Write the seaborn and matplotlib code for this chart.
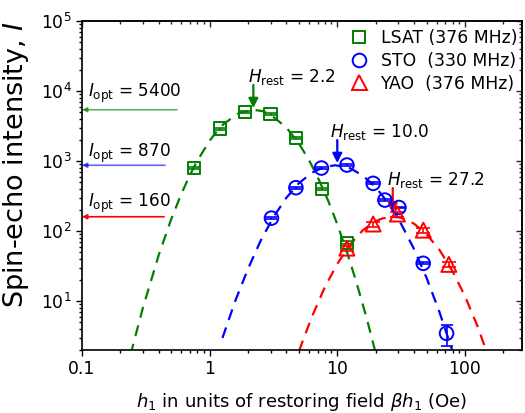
import numpy as np
import pandas as pd
import matplotlib
matplotlib.use("Agg")
import matplotlib.pyplot as plt
from matplotlib.lines import Line2D
import seaborn as sns

# ---------------- data ----------------
lsat_h = [0.757, 1.20, 1.89, 3.0, 4.74, 7.54, 11.9]
lsat_I = [790, 2910, 5060, 4690, 2110, 398, 68]
lsat_err = [25, 90, 160, 150, 70, 14, 3]

sto_h = [3.05, 4.74, 7.51, 11.9, 19.1, 23.6, 30.4, 47.1, 71.8]
sto_I = [153, 416, 794, 877, 480, 277, 217, 34.6, 3.46]
sto_err = [5, 12, 24, 27, 15, 9, 7, 1.2, 1.15]

yao_h = [11.9, 19.1, 29.6, 47.2, 74.8]
yao_I = [57, 126, 175, 103, 33.4]
yao_err = [4.5, 10, 14, 8, 2.7]

# fitted (dashed) curves
lsat_fit_h = [0.24, 0.3, 0.4, 0.5, 0.6, 0.7, 0.8, 1.0, 1.15, 1.3, 1.7, 2.2, 2.6,
              3.0, 4.0, 5.0, 6.0, 7.0, 8.5, 10, 12, 14, 17, 20]
lsat_fit_I = [1.72, 8.0, 46, 148, 339, 630, 1009, 1950, 2716, 3435, 4840, 5400, 5150,
              4605, 2999, 1782, 1033, 597, 269, 125, 47.9, 19.5, 5.66, 1.8]

sto_fit_h = [1.26, 1.585, 2.0, 2.51, 3.16, 3.98, 5.01, 6.31, 7.94, 9.66, 12.6, 15.8,
             20, 25.1, 31.6, 39.8, 50.1, 63.1, 79.4]
sto_fit_I = [2.97, 9.98, 29, 72.8, 158, 297, 483, 679, 826, 870, 791, 622,
             424, 250, 127, 56, 21.4, 7.0, 2.0]

yao_fit_h = [5.01, 6.31, 7.94, 10, 12.6, 15.8, 20, 22.4, 27.2, 31.6, 39.8, 50.1,
             63.1, 79.4, 100, 126, 158]
yao_fit_I = [1.93, 5.9, 15.4, 34, 64, 102, 138, 151, 160, 155, 128, 90,
             54, 27.3, 11.8, 4.3, 1.34]

legend_labels = ["LSAT (376 MHz)", "STO  (330 MHz)", "YAO  (376 MHz)"]
I_opt = [5400, 870, 160]
H_rest = [2.2, 10.0, 27.2]

# ---------------- styling ----------------
sns.set_theme(style="ticks")
plt.rcParams["font.family"] = ["DejaVu Sans"]
plt.rcParams["mathtext.fontset"] = "dejavusans"
plt.rcParams["text.color"] = "black"
plt.rcParams["axes.labelcolor"] = "black"
FS = 12.4

GREEN, BLUE, RED = "#008000", "#0000ff", "#ff0000"

fig = plt.figure(figsize=(5.25, 4.13), dpi=100)
ax = fig.add_axes([82 / 525, 63 / 413, 440 / 525, 329 / 413])
ax.set_xscale("log")
ax.set_yscale("log")
ax.set_xlim(0.1, 280)
ax.set_ylim(2, 1e5)

dash = (0, (5, 3.6))
for fh, fI, col in [(lsat_fit_h, lsat_fit_I, GREEN),
                    (sto_fit_h, sto_fit_I, BLUE),
                    (yao_fit_h, yao_fit_I, RED)]:
    sns.lineplot(x=fh, y=fI, ax=ax, color=col, lw=1.6, linestyle=dash,
                 estimator=None, sort=False, zorder=2)

series = [(lsat_h, lsat_I, lsat_err, GREEN, "s", 8.8),
          (sto_h, sto_I, sto_err, BLUE, "o", 9.8),
          (yao_h, yao_I, yao_err, RED, "^", 10.8)]
for h, I, e, col, mk, ms in series:
    ax.errorbar(h, I, yerr=e, fmt="none", ecolor=col, elinewidth=1.2,
                capsize=ms / 2 - 0.3, capthick=1.2, zorder=3)
    sns.scatterplot(x=h, y=I, ax=ax, marker=mk, s=ms ** 2, facecolors="none",
                    edgecolor=col, linewidth=1.4, zorder=4)

# axes / ticks
for sp in ax.spines.values():
    sp.set_linewidth(1.2)
    sp.set_color("black")
ax.tick_params(which="both", direction="out", top=False, right=False,
               labelsize=FS, colors="black", width=1.0)
ax.tick_params(which="major", length=4.5, pad=3)
ax.tick_params(which="minor", length=2.5)
ax.set_xticks([0.1, 1, 10, 100])
ax.set_xticklabels(["0.1", "1", "10", "100"])
ax.set_yticks([1e1, 1e2, 1e3, 1e4, 1e5])
ax.set_yticklabels([r"$10^{1}$", r"$10^{2}$", r"$10^{3}$", r"$10^{4}$", r"$10^{5}$"])

secx = ax.secondary_xaxis("top")
secx.tick_params(which="both", direction="in", labeltop=False, width=1.0)
secx.tick_params(which="major", length=4.5)
secx.tick_params(which="minor", length=2.5)
secx.set_xticks([0.1, 1, 10, 100])
secy = ax.secondary_yaxis("right")
secy.tick_params(which="both", direction="in", labelright=False, width=1.0)
secy.tick_params(which="major", length=4.5)
secy.tick_params(which="minor", length=2.5)
secy.set_yticks([1e1, 1e2, 1e3, 1e4, 1e5])

ax.set_xlabel(r"$h_{\mathregular{1}}$ in units of restoring field $\beta h_{\mathregular{1}}$ (Oe)",
              fontsize=13.1)
ax.xaxis.set_label_coords(0.5, -0.125)
ax.set_ylabel(r"Spin-echo intensity, $I$", fontsize=19.5)
ax.yaxis.set_label_coords(-0.115, 0.565)

# legend
handles = [Line2D([], [], ls="none", marker="s", ms=8.8, mfc="none", mec=GREEN, mew=1.4),
           Line2D([], [], ls="none", marker="o", ms=9.8, mfc="none", mec=BLUE, mew=1.4),
           Line2D([], [], ls="none", marker="^", ms=10.8, mfc="none", mec=RED, mew=1.4)]
ax.legend(handles, legend_labels, loc="upper right", bbox_to_anchor=(1.02, 1.018),
          frameon=False, fontsize=FS, handlelength=1.0, handletextpad=0.75,
          labelspacing=0.28, borderpad=0.3)

# I_opt arrows and texts
opt_cols = [(GREEN, 0.6), (BLUE, 0.6), (RED, 1.0)]
opt_start = [0.555, 0.447, 0.44]
opt_text_y = [8300, 1150, 222]
for val, (col, al), xs, ty in zip(I_opt, opt_cols, opt_start, opt_text_y):
    ax.annotate("", xy=(0.1, val), xytext=(xs, val),
                arrowprops=dict(arrowstyle="-|>", color=col, alpha=al, lw=1.2,
                                mutation_scale=7, shrinkA=0, shrinkB=0))
    ax.text(0.1115, ty, r"$I_{\mathregular{opt}}$" + f" = {val}", fontsize=12.2,
            va="baseline", ha="left")

# H_rest arrows and texts
rest_cols = [GREEN, BLUE, RED]
rest_arrow = [(12200, 5710), (1995, 936), (411, 181)]
rest_text = [(2.0, 13600), (8.75, 2200), (24.4, 454)]
for hr, col, (y0, y1), (tx, ty) in zip(H_rest, rest_cols, rest_arrow, rest_text):
    ax.annotate("", xy=(hr, y1), xytext=(hr, y0),
                arrowprops=dict(arrowstyle="-|>", color=col, lw=1.6,
                                mutation_scale=14, shrinkA=0, shrinkB=0))
    ax.text(tx, ty, r"$H_{\mathregular{rest}}$" + f" = {hr:.1f}", fontsize=12.2,
            va="baseline", ha="left")

fig.savefig("out.png", dpi=100)
